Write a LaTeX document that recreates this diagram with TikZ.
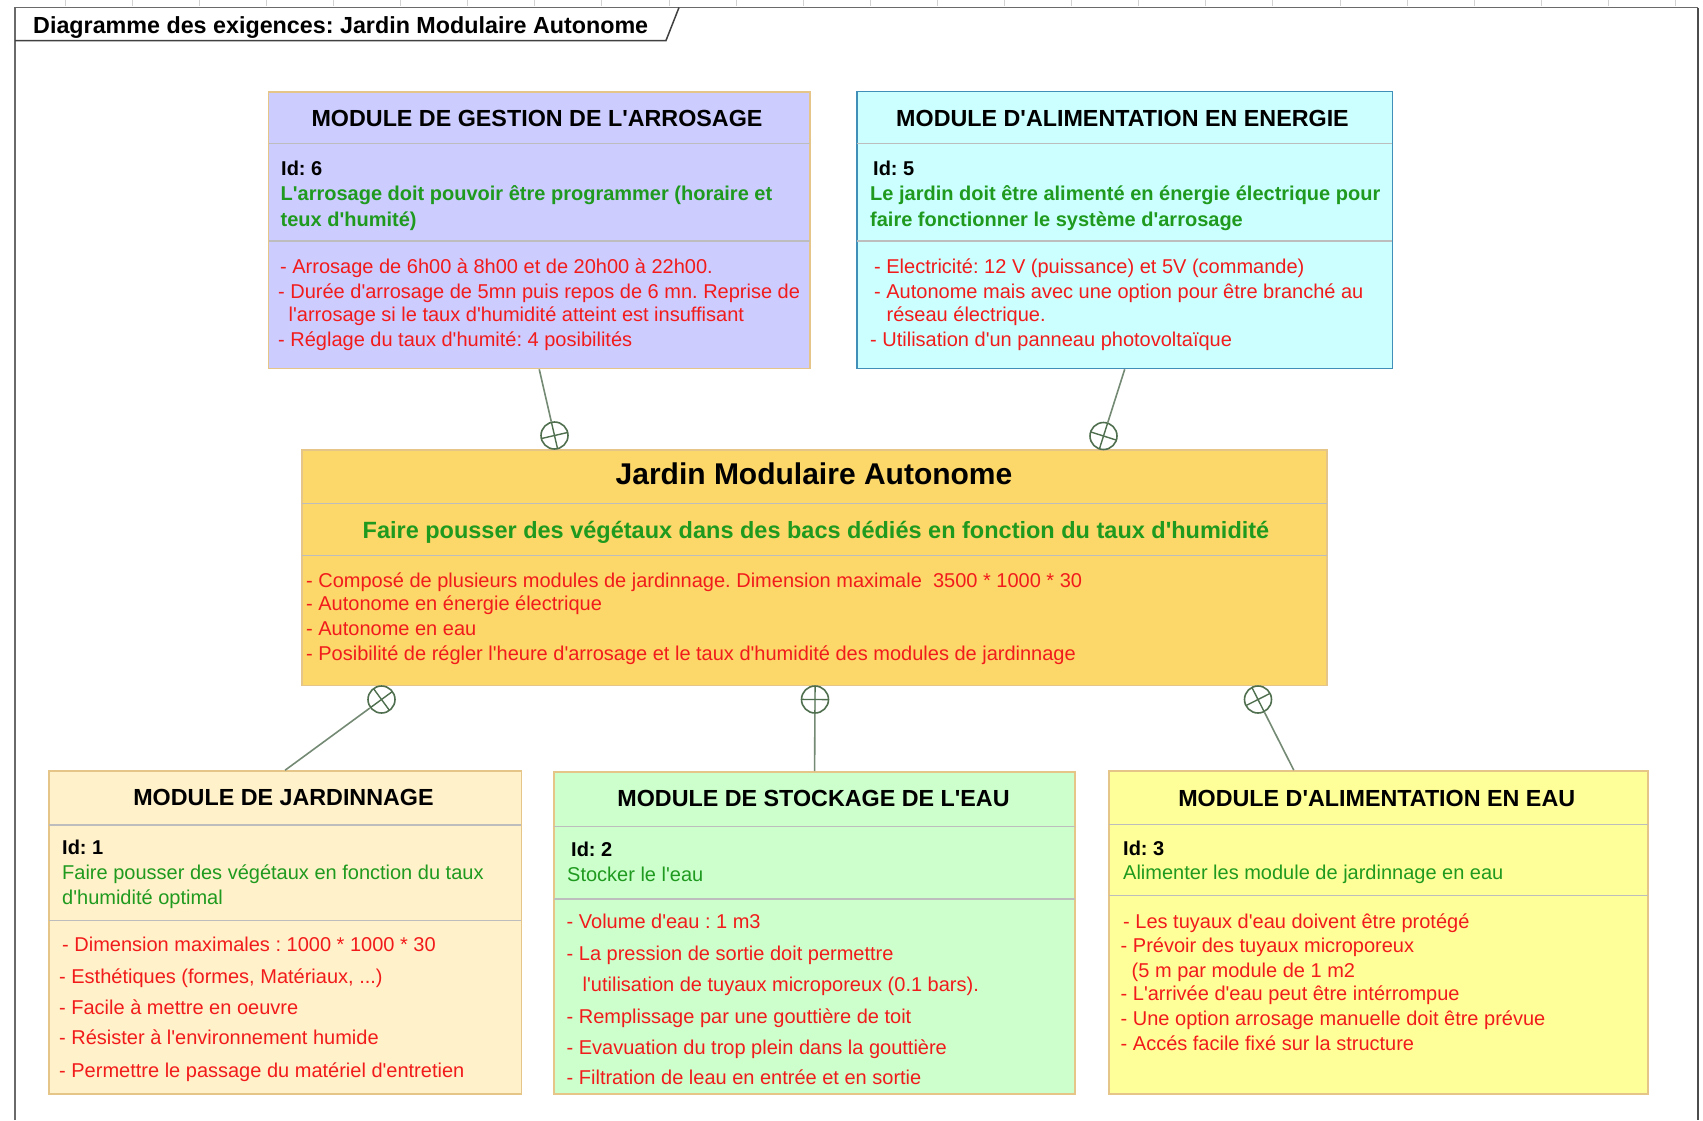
\documentclass[tikz,border=0pt]{standalone}
\usepackage{fontspec}
\newfontfamily\arial{Liberation Sans}
\usetikzlibrary{calc}

\definecolor{lavfill}{HTML}{CCCCFF}
\definecolor{cyanfill}{HTML}{CCFFFF}
\definecolor{gardenfill}{HTML}{FCD769}
\definecolor{beigefill}{HTML}{FFF1C9}
\definecolor{mintfill}{HTML}{CCFFCC}
\definecolor{lemonfill}{HTML}{FFFF99}
\definecolor{tanline}{HTML}{E6C588}
\definecolor{blueline}{HTML}{3F8FB8}
\definecolor{sepgray}{HTML}{BDBDBD}
\definecolor{reqred}{HTML}{F21B1B}
\definecolor{reqgreen}{HTML}{1F9A1F}
\definecolor{linkgreen}{HTML}{748A74}
\definecolor{markgreen}{HTML}{4F6F4F}
\definecolor{framegray}{HTML}{6A6A6A}

\frenchspacing
\begin{document}
\begin{tikzpicture}[x=1pt,y=-1pt,
  box/.style={rectangle, inner sep=0pt, line width=1.6pt},
  sepline/.style={draw=sepgray, line width=1.8pt},
  title/.style={anchor=base, inner sep=0pt, font=\arial\bfseries\fontsize{23.3}{28}\selectfont},
  idtxt/.style={anchor=base west, inner sep=0pt, font=\arial\bfseries\fontsize{20}{24}\selectfont},
  goal/.style={anchor=base west, inner sep=0pt, text=reqgreen, font=\arial\fontsize{20}{24}\selectfont},
  goalb/.style={goal, font=\arial\bfseries\fontsize{20}{24}\selectfont},
  spec/.style={anchor=base west, inner sep=0pt, text=reqred, font=\arial\fontsize{20}{24}\selectfont},
  link/.style={draw=linkgreen, line width=1.6pt},
  nest/.style={circle, draw=markgreen, line width=1.6pt, minimum size=27pt, inner sep=0pt},
  crossbar/.style={draw=markgreen, line width=1.4pt},
]
\useasboundingbox (0,0) rectangle (1703,1120);
\fill[white] (0,0) rectangle (1703,1120);

% ruler ticks along the top edge
\foreach \k in {0,...,24}
  \draw[gray!35, line width=0.8pt] ({65+67.1*\k},0) -- ({65+67.1*\k},6);

% diagram frame and its name tab
\draw[framegray, line width=1.5pt] (15,1120) -- (15,7.5) -- (1698,7.5);
\draw[black!70, line width=2.5pt] (1698,7.5) -- (1698,1120);
\draw[black!75, line width=1.5pt] (15,40.5) -- (666,40.5) -- (679,7.5);
\node[anchor=base west, inner sep=0pt, font=\arial\bfseries\fontsize{23.3}{28}\selectfont] (frame-title) at (33,33)
  {Diagramme des exigences: Jardin Modulaire Autonome};

% requirement boxes
\node[box, fill=lavfill, draw=tanline, minimum width=541.9pt, minimum height=276.8pt] (arr) at (539.25,230.1) {};
\node[box, fill=cyanfill, draw=blueline, minimum width=535.4pt, minimum height=277pt] (ene) at (1124.7,230) {};
\node[box, fill=gardenfill, draw=tanline, minimum width=1025.2pt, minimum height=235.5pt] (gar) at (814.6,567.75) {};
\node[box, fill=beigefill, draw=tanline, minimum width=472.4pt, minimum height=323pt] (jar) at (285.1,932.5) {};
\node[box, fill=mintfill, draw=tanline, minimum width=521.2pt, minimum height=322pt] (sto) at (814.6,933) {};
\node[box, fill=lemonfill, draw=tanline, minimum width=538.8pt, minimum height=323pt] (ali) at (1378.4,932.5) {};

% compartment separators
\foreach \b/\ya/\yb in {arr/143.5/241, ene/143.5/241, gar/503.5/555.5, jar/825/920.5, sto/826.5/899, ali/824.5/895.5} {
  \draw[sepline] ([xshift=1pt]\b.west |- 0,\ya) -- ([xshift=-1pt]\b.east |- 0,\ya);
  \draw[sepline] ([xshift=1pt]\b.west |- 0,\yb) -- ([xshift=-1pt]\b.east |- 0,\yb);
}

% MODULE DE GESTION DE L'ARROSAGE
\node[title] (arr-t) at (537,126.8) {MODULE DE GESTION DE L'ARROSAGE};
\node[idtxt] (arr-id) at (281,175.5) {Id: 6};
\node[goalb] (arr-g1) at (280.5,200.7) {L'arrosage doit pouvoir être programmer (horaire et};
\node[goalb] (arr-g2) at (280.5,226.2) {teux d'humité)};
\node[spec] (arr-r1) at (280,273.2) {- Arrosage de 6h00 à 8h00 et de 20h00 à 22h00.};
\node[spec] (arr-r2) at (278,298.2) {- Durée d'arrosage de 5mn puis repos de 6 mn. Reprise de};
\node[spec] (arr-r3) at (288.5,321.4) {l'arrosage si le taux d'humidité atteint est insuffisant};
\node[spec] (arr-r4) at (278,346.7) {- Réglage du taux d'humité: 4 posibilités};

% MODULE D'ALIMENTATION EN ENERGIE
\node[title] (ene-t) at (1122.5,126.8) {MODULE D'ALIMENTATION EN ENERGIE};
\node[idtxt] (ene-id) at (873,175.5) {Id: 5};
\node[goalb] (ene-g1) at (870,200.7) {Le jardin doit être alimenté en énergie électrique pour};
\node[goalb] (ene-g2) at (870,226.2) {faire fonctionner le système d'arrosage};
\node[spec] (ene-r1) at (874,273.2) {- Electricité: 12 V (puissance) et 5V (commande)};
\node[spec] (ene-r2) at (874,298.2) {- Autonome mais avec une option pour être branché au};
\node[spec] (ene-r3) at (886.5,321.4) {réseau électrique.};
\node[spec] (ene-r4) at (870,346.7) {- Utilisation d'un panneau photovoltaïque};

% Jardin Modulaire Autonome
\node[anchor=base, inner sep=0pt, font=\arial\bfseries\fontsize{30}{36}\selectfont] (gar-t) at (814,484.3) {Jardin Modulaire Autonome};
\node[anchor=base, inner sep=0pt, text=reqgreen, font=\arial\bfseries\fontsize{23.5}{28}\selectfont] (gar-g) at (816,538.5)
  {Faire pousser des végétaux dans des bacs dédiés en fonction du taux d'humidité};
\node[spec] (gar-r1) at (306,587.2) {- Composé de plusieurs modules de jardinnage. Dimension maximale\ \ 3500 * 1000 * 30};
\node[spec] (gar-r2) at (306,610.8) {- Autonome en énergie électrique};
\node[spec] (gar-r3) at (306,635.2) {- Autonome en eau};
\node[spec] (gar-r4) at (306,660.2) {- Posibilité de régler l'heure d'arrosage et le taux d'humidité des modules de jardinnage};

% MODULE DE JARDINNAGE
\node[title] (jar-t) at (283.5,805.9) {MODULE DE JARDINNAGE};
\node[idtxt] (jar-id) at (62,854.7) {Id: 1};
\node[goal] (jar-g1) at (62,879.7) {Faire pousser des végétaux en fonction du taux};
\node[goal] (jar-g2) at (62,904.7) {d'humidité optimal};
\node[spec] (jar-r1) at (62,951.7) {- Dimension maximales : 1000 * 1000 * 30};
\node[spec] (jar-r2) at (59,983.2) {- Esthétiques (formes, Matériaux, ...)};
\node[spec] (jar-r3) at (59,1014) {- Facile à mettre en oeuvre};
\node[spec] (jar-r4) at (59,1044.9) {- Résister à l'environnement humide};
\node[spec] (jar-r5) at (59,1077.9) {- Permettre le passage du matériel d'entretien};

% MODULE DE STOCKAGE DE L'EAU
\node[title] (sto-t) at (813.5,806.4) {MODULE DE STOCKAGE DE L'EAU};
\node[idtxt] (sto-id) at (571,856.2) {Id: 2};
\node[goal] (sto-g1) at (567,881.7) {Stocker le l'eau};
\node[spec] (sto-r1) at (566.5,928.7) {- Volume d'eau : 1 m3};
\node[spec] (sto-r2) at (566.5,960.2) {- La pression de sortie doit permettre};
\node[spec] (sto-r3) at (582.5,991.2) {l'utilisation de tuyaux microporeux (0.1 bars).};
\node[spec] (sto-r4) at (566.5,1023.8) {- Remplissage par une gouttière de toit};
\node[spec] (sto-r5) at (566.5,1054.9) {- Evavuation du trop plein dans la gouttière};
\node[spec] (sto-r6) at (566.5,1084.9) {- Filtration de leau en entrée et en sortie};

% MODULE D'ALIMENTATION EN EAU
\node[title] (ali-t) at (1376.7,806.4) {MODULE D'ALIMENTATION EN EAU};
\node[idtxt] (ali-id) at (1123,855.2) {Id: 3};
\node[goal] (ali-g1) at (1123,879.7) {Alimenter les module de jardinnage en eau};
\node[spec] (ali-r1) at (1123,928.7) {- Les tuyaux d'eau doivent être protégé};
\node[spec] (ali-r2) at (1120.5,952.7) {- Prévoir des tuyaux microporeux};
\node[spec] (ali-r3) at (1131.5,977.2) {(5 m par module de 1 m2};
\node[spec] (ali-r4) at (1120.5,1000.5) {- L'arrivée d'eau peut être intérrompue};
\node[spec] (ali-r5) at (1120.5,1025.5) {- Une option arrosage manuelle doit être prévue};
\node[spec] (ali-r6) at (1120.5,1050.5) {- Accés facile fixé sur la structure};

% containment markers on the parent side
\node[nest] (k1) at (554.5,435.5) {};
\node[nest] (k2) at (1103.5,436) {};
\node[nest] (k3) at (381.5,699.5) {};
\node[nest] (k4) at (815,699.5) {};
\node[nest] (k5) at (1258,699.5) {};
\coordinate (ali-top) at ([xshift=185.6pt]ali.north west);

% containment links
\draw[link] (arr.south) -- (k1);
\draw[link] (ene.south) -- (k2);
\draw[link] (jar.north) -- (k3);
\draw[link] (sto.north) -- (k4);
\draw[link] (ali-top) -- (k5);

% crosses inside the markers, aligned with each link
\foreach \k/\e in {k1/arr.south, k2/ene.south, k3/jar.north, k4/sto.north, k5/ali-top} {
  \draw[crossbar] ($(\k)!13.5pt!(\e)$) -- ($(\k)!-13.5pt!(\e)$);
  \draw[crossbar] ($(\k)!13.5pt!90:(\e)$) -- ($(\k)!-13.5pt!90:(\e)$);
}
\end{tikzpicture}
\end{document}
